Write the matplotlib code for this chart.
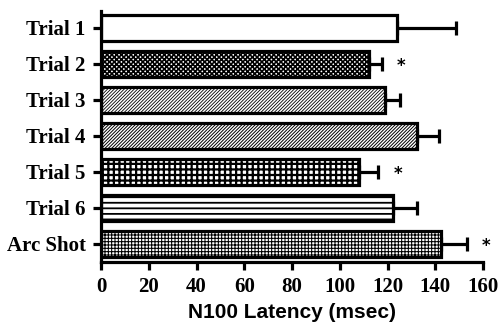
import matplotlib
matplotlib.use('Agg')
import matplotlib.pyplot as plt

## N100 latency per trial, horizontal bars with one-sided error bars
labels = ['Trial 1', 'Trial 2', 'Trial 3', 'Trial 4', 'Trial 5', 'Trial 6', 'Arc Shot']
means = [123.8, 112.4, 119.0, 132.5, 107.9, 122.4, 142.3]
sem = [25.0, 5.1, 6.2, 8.9, 8.3, 10.1, 10.9]
significant = [False, True, False, False, True, False, True]
hatches = ['', 'xxxxxxx', '//////////', '//////////', '+++', '---', '+++++']
hatch_lw = [1.0, 1.2, 0.6, 0.7, 1.6, 1.3, 0.75]

fig = plt.figure(figsize=(4.99, 3.25), dpi=100)
ax = fig.add_axes([0.2024, 0.194, 0.7656, 0.772])

pos = range(len(labels))
lw = 2.3
bars = ax.barh(pos, means, height=0.71, color='white', edgecolor='black',
               linewidth=lw, hatch=hatches, zorder=2)
for b, h in zip(bars, hatch_lw):
    if hasattr(b, 'set_hatch_linewidth'):
        b.set_hatch_linewidth(h)
ax.errorbar(means, pos, xerr=[[0] * len(sem), sem], fmt='none', ecolor='black',
            elinewidth=lw, capsize=4.7, capthick=lw, zorder=1)

# significance stars
for i, (m, e, s) in enumerate(zip(means, sem, significant)):
    if s:
        ax.text(m + e + 8, i + 0.06, '*', ha='center', va='center',
                fontsize=12, fontweight='bold', clip_on=False)

ax.set_xlim(0, 160)
ax.set_ylim(6.5, -0.47)
ax.set_xticks(range(0, 161, 20))
ax.set_yticks(list(pos))
ax.set_yticklabels(labels)

for sp in ['top', 'right']:
    ax.spines[sp].set_visible(False)
for sp in ['left', 'bottom']:
    ax.spines[sp].set_linewidth(lw)

ax.tick_params(axis='both', width=lw, length=6, pad=5)
for t in ax.get_xticklabels() + ax.get_yticklabels():
    t.set_fontfamily('Liberation Serif')
    t.set_fontweight('bold')
    t.set_fontsize(15)

ax.set_xlabel('N100 Latency (msec)', fontfamily='Liberation Sans',
              fontweight='bold', fontsize=15, labelpad=4)

fig.savefig('out.png', dpi=100)
